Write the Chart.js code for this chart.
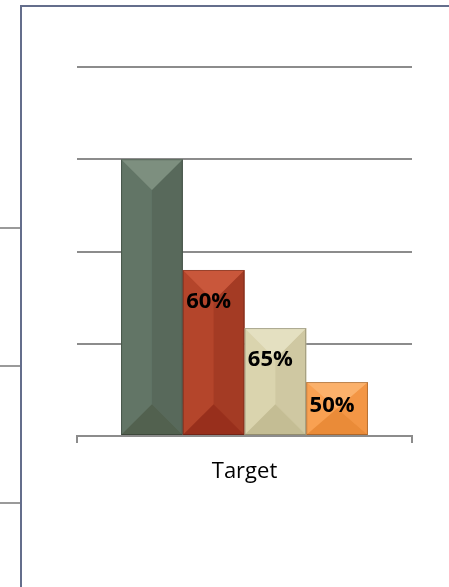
<!DOCTYPE html>
<html lang="en">
<head>
    <meta charset="UTF-8">
    <title>Target</title>
    <style>
        html, body { margin: 0; padding: 0; background: #fff; overflow: hidden; }
        .frame { position: absolute; left: 20px; top: 5px; width: 440px; height: 600px;
                 border-left: 2px solid #646e8c; border-top: 2px solid #646e8c; }
        .stub { position: absolute; left: 0; width: 20px; height: 2px; background: #9a9a9a; }
        canvas { position: absolute; left: 0; top: 0; }
    </style>
</head>
<body>
    <div class="stub" style="top:227px"></div>
    <div class="stub" style="top:365px"></div>
    <div class="stub" style="top:502px"></div>
    <div class="frame"></div>
    <canvas id="target-chart" width="449" height="587"></canvas>

    <script src="https://cdn.jsdelivr.net/npm/chart.js"></script>
    <script>
        // chart data
        const categories = ['Target'];
        const seriesNames = ['Stage 1', 'Stage 2', 'Stage 3', 'Stage 4'];
        const seriesValues = [300, 180, 117, 58.5];
        const yTicks = [0, 100, 200, 300, 400];

        // bevel shades per series: [left, right, top, bottom]
        const shades = [
            ['#627566', '#58695b', '#7d8f7f', '#52614f'],
            ['#b4452b', '#a43b24', '#c9573b', '#982f1c'],
            ['#dad4ae', '#cfc8a2', '#e4e0c1', '#c4bd94'],
            ['#f9a152', '#f39645', '#fbb16b', '#ea8b38']
        ];

        // each label is the share of the previous bar
        function shareLabel(i) {
            if (i === 0) return null;
            return Math.round(seriesValues[i] / seriesValues[i - 1] * 100) + '%';
        }

        const bevelBars = {
            id: 'bevelBars',
            afterDatasetsDraw(chart) {
                const ctx = chart.ctx;
                chart.data.datasets.forEach((ds, di) => {
                    const meta = chart.getDatasetMeta(di);
                    meta.data.forEach(bar => {
                        const L = bar.x - bar.width / 2, R = bar.x + bar.width / 2;
                        const T = bar.y, B = bar.base, C = bar.x;
                        const h = Math.min(bar.width / 2, (B - T) / 2);
                        const s = shades[di];
                        const poly = (pts, col) => {
                            ctx.beginPath();
                            ctx.moveTo(pts[0][0], pts[0][1]);
                            pts.slice(1).forEach(p => ctx.lineTo(p[0], p[1]));
                            ctx.closePath();
                            ctx.fillStyle = col;
                            ctx.fill();
                        };
                        ctx.save();
                        poly([[L, T], [C, T + h], [C, B - h], [L, B]], s[0]);
                        poly([[R, T], [C, T + h], [C, B - h], [R, B]], s[1]);
                        poly([[L, T], [R, T], [C, T + h]], s[2]);
                        poly([[L, B], [R, B], [C, B - h]], s[3]);
                        ctx.strokeStyle = 'rgba(0,0,0,0.25)';
                        ctx.lineWidth = 1;
                        ctx.strokeRect(L + 0.5, T + 0.5, bar.width - 1, B - T - 1);

                        const text = shareLabel(di);
                        if (text) {
                            ctx.font = 'bold 22px "Open Sans"';
                            ctx.fillStyle = '#000';
                            ctx.textAlign = 'center';
                            ctx.textBaseline = 'middle';
                            const ty = Math.min(T + 32, (T + B) / 2 - 3);
                            ctx.fillText(text, C - 5, ty);
                        }
                        ctx.restore();
                    });
                });
            }
        };

        const datasets = seriesNames.map((name, i) => ({
            label: name,
            data: [seriesValues[i]],
            backgroundColor: shades[i][0],
            borderWidth: 0,
            barPercentage: 1,
            categoryPercentage: 0.737
        }));

        new Chart(document.getElementById('target-chart').getContext('2d'), {
            type: 'bar',
            data: { labels: categories, datasets: datasets },
            plugins: [bevelBars],
            options: {
                responsive: false,
                animation: false,
                layout: { padding: { left: 77, right: 37, top: 67, bottom: 0 } },
                plugins: { legend: { display: false }, tooltip: { enabled: false } },
                scales: {
                    x: {
                        offset: true,
                        grid: { drawOnChartArea: false, tickLength: 7, color: '#8c8c8c', lineWidth: 2 },
                        border: { color: '#8c8c8c', width: 2 },
                        ticks: { color: '#000', padding: 16, font: { family: 'Open Sans', size: 22 } },
                        afterFit(scale) { scale.height = 151; }
                    },
                    y: {
                        min: yTicks[0],
                        max: yTicks[yTicks.length - 1],
                        afterBuildTicks(scale) { scale.ticks = yTicks.map(v => ({ value: v })); },
                        grid: { drawTicks: false, color: '#8c8c8c', lineWidth: 2 },
                        border: { display: false },
                        ticks: { display: false },
                        afterFit(scale) { scale.width = 0; }
                    }
                }
            }
        });
    </script>
</body>
</html>
